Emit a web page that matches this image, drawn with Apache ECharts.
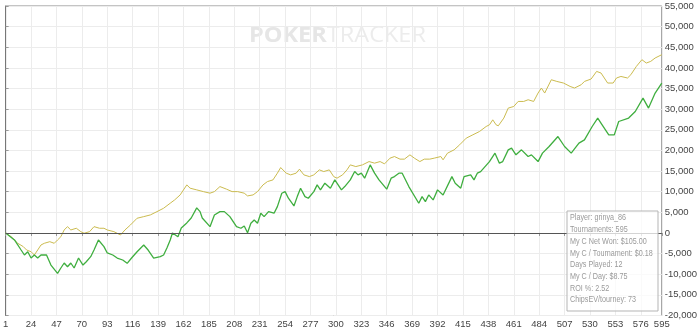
<!DOCTYPE html>
<html>
<head>
<meta charset="utf-8">
<script src="https://cdn.jsdelivr.net/npm/echarts@6/dist/echarts.min.js"></script>
<style>html,body{margin:0;padding:0;background:#fff;}#chart{width:700px;height:331px;}</style>
</head>
<body>
<div id="chart"></div>
<script>
// Tournament numbers and cumulative chips for the green series
const greenTourney = [
  1, 9, 15, 18, 21, 24, 27, 30, 33, 38,
  42, 48, 51, 54, 57, 60, 63, 67, 71, 74,
  78, 81, 85, 90, 93, 98, 102, 107, 111, 115,
  120, 126, 130, 135, 141, 144, 147, 150, 152, 157,
  160, 165, 169, 174, 177, 179, 186, 190, 195, 199,
  204, 210, 214, 217, 220, 223, 226, 229, 232, 235,
  239, 244, 247, 251, 254, 257, 262, 265, 268, 272,
  275, 280, 283, 286, 290, 295, 299, 305, 308, 313,
  317, 320, 323, 326, 331, 335, 339, 346, 350, 353,
  357, 360, 366, 375, 378, 381, 384, 388, 392, 397,
  405, 408, 413, 416, 422, 425, 428, 431, 439, 444,
  448, 451, 456, 459, 463, 468, 474, 477, 483, 487,
  493, 501, 507, 513, 520, 525, 532, 537, 541, 547,
  552, 556, 565, 571, 578, 583, 589, 595
];
const greenValue = [
  0, -1700, -4130, -5340, -4540, -6070, -5340, -6070, -5340, -5340,
  -7770, -9780, -8490, -7280, -8180, -7280, -8490, -6070, -7770, -6970,
  -5750, -4130, -1700, -3320, -4850, -5340, -6070, -6550, -7350, -6070,
  -4540, -2910, -4130, -6070, -5750, -5340, -3640, -1700, 0, -900,
  1210, 2430, 3640, 6070, 5170, 3640, 1530, 4370, 5170, 5170,
  3960, 1530, 1140, 1700, 70, 2350, 3160, 2350, 4780, 3960,
  5170, 4780, 6380, 9630, 10020, 8420, 6550, 8810, 10850, 8810,
  8420, 10020, 11650, 10440, 12060, 10850, 12860, 10440, 11240, 12860,
  14880, 14080, 14490, 13280, 16500, 14490, 12860, 10610, 13280, 13660,
  14490, 14490, 11240, 7210, 8810, 7600, 9220, 8010, 10440, 9220,
  13660, 12060, 10850, 13660, 14080, 12860, 14490, 14880, 17300, 19340,
  16920, 17300, 20140, 20560, 18930, 20140, 18520, 18930, 17300, 19340,
  20950, 23370, 20950, 19340, 21770, 22570, 25800, 27840, 26210, 23780,
  23780, 27010, 27840, 29440, 32690, 30260, 33900, 36330
];
// Tournament numbers and cumulative chips for the yellow series
const yellowTourney = [
  1, 6, 12, 17, 20, 24, 27, 30, 33, 36,
  41, 45, 48, 51, 54, 57, 60, 65, 69, 72,
  77, 81, 86, 90, 93, 99, 105, 109, 114, 120,
  126, 132, 138, 144, 150, 154, 159, 165, 168, 174,
  180, 186, 190, 195, 201, 206, 211, 217, 220, 225,
  229, 234, 238, 243, 247, 250, 255, 259, 264, 267,
  271, 276, 280, 285, 289, 294, 298, 301, 306, 310,
  313, 318, 324, 330, 335, 340, 344, 349, 353, 358,
  362, 367, 371, 376, 380, 385, 389, 395, 397, 401,
  407, 412, 418, 424, 430, 436, 439, 442, 445, 447,
  452, 456, 461, 465, 470, 474, 479, 483, 486, 489,
  495, 500, 506, 512, 516, 522, 525, 531, 536, 540,
  546, 551, 554, 558, 564, 567, 572, 577, 581, 585,
  589, 595
];
const yellowValue = [
  0, -900, -2500, -3320, -4130, -4540, -5340, -4130, -2910, -2500,
  -2110, -2500, -1700, -900, 730, 1530, 730, 1140, 320, -70,
  320, 1530, 1140, 1140, 730, 320, -490, 730, 1940, 3570,
  3960, 4370, 5170, 5990, 7210, 8010, 9220, 11650, 10850, 10440,
  10020, 9640, 10020, 11240, 10610, 10020, 10020, 9640, 8980, 9220,
  10020, 11650, 12450, 12860, 14490, 15850, 14490, 14080, 14490, 15460,
  14080, 13660, 14080, 15290, 14880, 15290, 13660, 13280, 14080, 15290,
  16500, 16090, 16500, 17300, 16920, 17300, 16750, 18130, 18520, 17890,
  17890, 18930, 18130, 17300, 17890, 17890, 18130, 18520, 17720, 19340,
  20140, 21360, 22980, 23790, 24590, 25800, 26210, 27420, 26210, 25970,
  27840, 30260, 30650, 31870, 31870, 32280, 31870, 33910, 35120, 33910,
  37130, 36720, 36330, 35510, 35120, 35920, 36720, 37300, 39150, 38760,
  36330, 36330, 37550, 37930, 37550, 38350, 40360, 41990, 41180, 41580,
  42400, 43200
];
const infoLines = [
  'Player: grinya_86',
  'Tournaments: 595',
  'My C Net Won: $105.00',
  'My C / Tournament: $0.18',
  'Days Played: 12',
  'My C / Day: $8.75',
  'ROI %: 2.52',
  'ChipsEV/tourney: 73'
];
const firstTourney = 1, lastTourney = 595, tourneyStep = 23;
const yMin = -20000, yMax = 55000, yStep = 5000;

// axis uses zero-based offsets so ticks start at tournament 1
const toPairs = (ts, vs) => ts.map((t, i) => [t - firstTourney, vs[i]]);

const chart = echarts.init(document.getElementById('chart'), null, {renderer: 'canvas'});
const FONT = '"Liberation Sans", Arial, sans-serif';

const infoGraphics = infoLines.map((s, i) => ({
  type: 'text', x: 570, y: 213.5 + i * 11.7, scaleX: 0.8, z: 101, silent: true,
  style: {text: s, fill: '#9a9a9a', font: '9px ' + FONT, verticalAlign: 'top'}
}));

chart.setOption({
  animation: false,
  grid: {left: 4, right: 33, top: 6, bottom: 15.5, show: true, borderColor: '#888', borderWidth: 1, backgroundColor: 'transparent'},
  xAxis: {
    type: 'value', min: 0, max: lastTourney - firstTourney, interval: tourneyStep,
    axisLine: {show: true, lineStyle: {color: '#999'}},
    axisTick: {show: true, length: 3, lineStyle: {color: '#999'}},
    axisLabel: {
      formatter: v => String(v + firstTourney), fontSize: 9.5, color: '#444', margin: 4,
      fontFamily: FONT, showMinLabel: true, showMaxLabel: true, hideOverlap: false
    },
    splitLine: {show: true, lineStyle: {color: '#ececec', width: 1}}
  },
  yAxis: {
    type: 'value', position: 'right', min: yMin, max: yMax, interval: yStep,
    axisLine: {show: true, lineStyle: {color: '#777'}},
    axisTick: {show: true, length: 3, lineStyle: {color: '#999'}},
    axisLabel: {
      formatter: v => v.toLocaleString('en-US'), fontSize: 9.5, color: '#444', margin: 3,
      fontFamily: FONT, showMinLabel: true, showMaxLabel: true
    },
    splitLine: {show: true, lineStyle: {color: '#ececec', width: 1}}
  },
  graphic: [
    {
      type: 'text', x: 249, y: 26, scaleX: 1.12, z: 0, silent: true,
      style: {
        text: '{a|POKER}{b|TRACKER}',
        verticalAlign: 'top',
        rich: {
          a: {fontSize: 21, fontWeight: 'bold', fill: '#e6e6e6', fontFamily: '"Open Sans", "Liberation Sans", sans-serif'},
          b: {fontSize: 21, fontWeight: 'normal', fill: '#ececec', fontFamily: '"Open Sans", "Liberation Sans", sans-serif'}
        }
      }
    },
    {
      type: 'rect', x: 567, y: 211, z: 100, silent: true,
      shape: {x: 0, y: 0, width: 91, height: 100},
      style: {fill: 'rgba(255,255,255,0.75)', stroke: '#b5b5b5', lineWidth: 1}
    },
    ...infoGraphics
  ],
  series: [
    {
      name: 'ChipsEV', type: 'line', data: toPairs(yellowTourney, yellowValue),
      showSymbol: false, symbol: 'none', lineStyle: {color: '#cbbb4f', width: 1}, z: 3
    },
    {
      name: 'Chips', type: 'line', data: toPairs(greenTourney, greenValue),
      showSymbol: false, symbol: 'none', lineStyle: {color: '#3fae3f', width: 1.3}, z: 4,
      markLine: {
        silent: true, symbol: 'none', label: {show: false},
        lineStyle: {color: '#555', width: 1, type: 'solid'},
        data: [{yAxis: 0}]
      }
    }
  ]
});
</script>
</body>
</html>
